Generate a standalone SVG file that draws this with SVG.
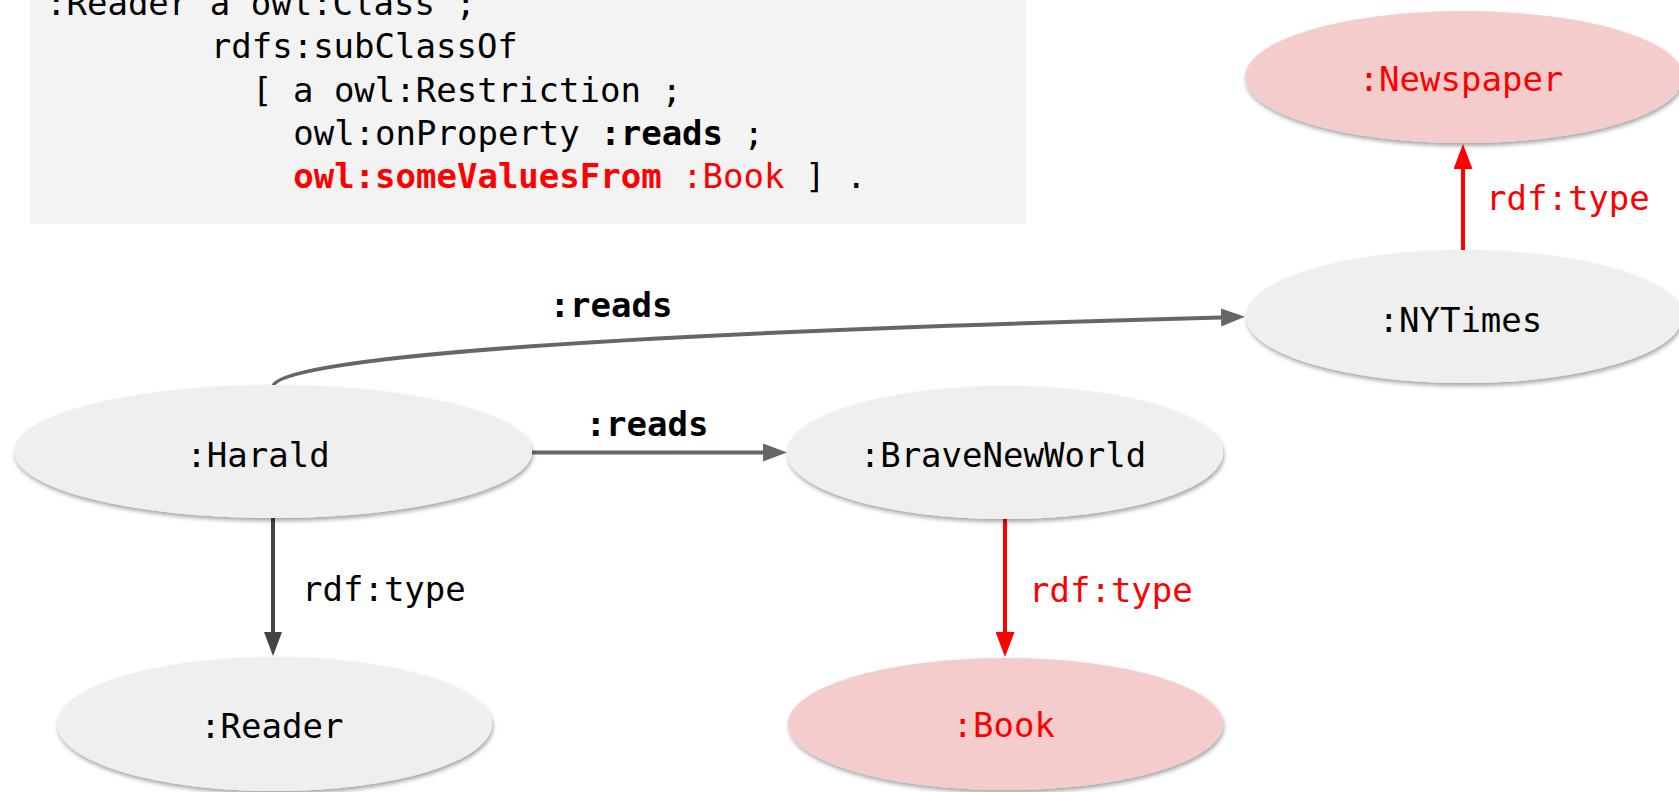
<svg xmlns="http://www.w3.org/2000/svg" width="1679" height="792" viewBox="0 0 1679 792">
  <style>
    text { font-family: "DejaVu Sans Mono", "Liberation Mono", monospace; font-size: 34px; fill: #000; }
    .b { font-weight: bold; }
    .red { fill: #ff0000; }
    .node { fill: #efefef; filter: url(#shadow); }
    .node.hi { fill: #f4cccc; }
    .edge { fill: none; stroke: #666666; stroke-width: 4; }
    .edge.dark { stroke: #434343; }
    .edge.red { stroke: #ff0000; }
  </style>
  <defs>
    <filter id="shadow" x="-10%" y="-20%" width="120%" height="150%">
      <feDropShadow dx="1" dy="3" stdDeviation="2" flood-color="#000" flood-opacity="0.35"/>
    </filter>
    <marker id="arrow-gray" viewBox="0 0 24 18" refX="0" refY="9" markerWidth="24" markerHeight="18" markerUnits="userSpaceOnUse" orient="auto">
      <path d="M0,0 L24,9 L0,18 Z" fill="#666666"/>
    </marker>
    <marker id="arrow-dark" viewBox="0 0 24 18" refX="0" refY="9" markerWidth="24" markerHeight="18" markerUnits="userSpaceOnUse" orient="auto">
      <path d="M0,0 L24,9 L0,18 Z" fill="#434343"/>
    </marker>
    <marker id="arrow-red" viewBox="0 0 25 19" refX="0" refY="9.5" markerWidth="25" markerHeight="19" markerUnits="userSpaceOnUse" orient="auto">
      <path d="M0,0 L25,9.5 L0,19 Z" fill="#ff0000"/>
    </marker>
  </defs>

  <!-- Turtle snippet defining :Reader -->
  <g id="code">
    <rect x="30" y="-10" width="996" height="234" fill="#f3f3f3"/>
    <text x="46" y="15">:Reader a owl:Class ;</text>
    <text x="210.8" y="58.3">rdfs:subClassOf</text>
    <text x="252" y="101.7">[ a owl:Restriction ;</text>
    <text x="293.2" y="145">owl:onProperty <tspan class="b">:reads</tspan> ;</text>
    <text x="293.2" y="188.3"><tspan class="b red">owl:someValuesFrom</tspan><tspan class="red"> :Book</tspan> ] .</text>
  </g>

  <!-- connectors -->
  <g id="edges">
    <path class="edge" d="M273,387 C273,360 560,335 1221,317.5" marker-end="url(#arrow-gray)"/>
    <text class="b" x="611" y="317" text-anchor="middle">:reads</text>

    <path class="edge" d="M532,452.5 L763,452.5" marker-end="url(#arrow-gray)"/>
    <text class="b" x="647" y="436" text-anchor="middle">:reads</text>

    <path class="edge dark" d="M273,518 L273,632" marker-end="url(#arrow-dark)"/>
    <text x="302" y="601">rdf:type</text>

    <path class="edge red" d="M1005,519 L1005,632" marker-end="url(#arrow-red)"/>
    <text class="red" x="1029" y="602">rdf:type</text>

    <path class="edge red" d="M1463,250 L1463,169" marker-end="url(#arrow-red)"/>
    <text class="red" x="1486" y="210">rdf:type</text>
  </g>

  <!-- nodes -->
  <g id="node-newspaper">
    <ellipse class="node hi" cx="1464" cy="77" rx="219" ry="66"/>
    <text class="red" x="1461" y="90.7" text-anchor="middle">:Newspaper</text>
  </g>
  <g id="node-nytimes">
    <ellipse class="node" cx="1464" cy="316.5" rx="218" ry="66.5"/>
    <text x="1460.4" y="331.7" text-anchor="middle">:NYTimes</text>
  </g>
  <g id="node-harald">
    <ellipse class="node" cx="273" cy="451.5" rx="259" ry="66.5"/>
    <text x="258" y="467" text-anchor="middle">:Harald</text>
  </g>
  <g id="node-bravenewworld">
    <ellipse class="node" cx="1005" cy="452.5" rx="218" ry="66.5"/>
    <text x="1003" y="467" text-anchor="middle">:BraveNewWorld</text>
  </g>
  <g id="node-reader">
    <ellipse class="node" cx="274.5" cy="724" rx="217.5" ry="67"/>
    <text x="271.8" y="738" text-anchor="middle">:Reader</text>
  </g>
  <g id="node-book">
    <ellipse class="node hi" cx="1005.5" cy="724" rx="217.5" ry="66"/>
    <text class="red" x="1003.8" y="737" text-anchor="middle">:Book</text>
  </g>
</svg>
